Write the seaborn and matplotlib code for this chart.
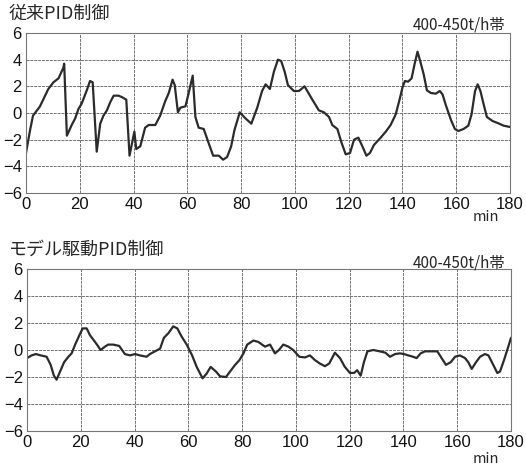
import matplotlib
matplotlib.use("Agg")
import matplotlib.pyplot as plt
import seaborn as sns
import pandas as pd

# conventional PID (top panel)
conv_t = [0, 1.5, 2.6, 5.2, 8.3, 10.2, 12.1, 13.9, 14.2, 15.2, 17.0, 18.3, 19.5, 20.7,
          22.6, 23.8, 24.8, 26.3, 27.6, 28.8, 30.1, 31.3, 32.6, 34.4, 35.6, 37.3, 38.5,
          39.4, 40.3, 41.0, 42.5, 44.3, 45.6, 48.1, 49.9, 51.8, 53.1, 54.5, 55.3, 56.5,
          57.4, 59.3, 60.5, 62.0, 63.0, 64.2, 66.1, 68.0, 69.6, 71.7, 73.3, 74.8, 76.3,
          77.5, 79.5, 81.6, 83.8, 86.0, 87.8, 89.1, 90.7, 92.2, 93.7, 94.9, 96.2, 97.4,
          99.6, 101.5, 103.6, 105.9, 108.9, 110.8, 112.7, 113.9, 115.8, 117.3, 118.9,
          120.5, 122.0, 123.6, 125.1, 126.6, 127.9, 129.4, 131.9, 133.8, 135.6, 137.5,
          138.8, 140.0, 140.9, 142.1, 143.4, 144.6, 145.6, 146.6, 147.9, 149.1, 150.6,
          152.4, 153.9, 154.9, 156.2, 158.1, 159.5, 160.8, 162.7, 164.5, 165.7, 167.0,
          168.0, 169.0, 170.2, 171.4, 173.5, 175.4, 177.6, 180.0]
conv_v = [-3.0, -1.3, -0.2, 0.5, 1.8, 2.3, 2.6, 3.4, 3.7, -1.7, -0.9, -0.4, 0.3, 0.7,
          1.7, 2.4, 2.3, -2.9, -0.8, -0.2, 0.2, 0.8, 1.3, 1.3, 1.2, 1.0, -3.2,
          -2.3, -1.4, -2.7, -2.5, -1.1, -0.9, -0.9, -0.2, 0.9, 1.5, 2.5, 2.1, 0.05,
          0.4, 0.5, 1.5, 2.8, -0.3, -1.1, -1.2, -2.3, -3.2, -3.2, -3.5, -3.3, -2.5,
          -1.3, 0.05, -0.4, -0.8, 0.4, 1.65, 2.15, 1.8, 3.1, 4.0, 3.9, 3.1, 2.1,
          1.65, 1.65, 2.0, 1.2, 0.2, 0.05, -0.3, -0.9, -1.2, -2.2, -3.1,
          -3.0, -2.0, -1.85, -2.5, -3.2, -3.0, -2.4, -1.85, -1.4, -0.9, -0.1,
          0.9, 1.9, 2.4, 2.35, 2.6, 3.75, 4.6, 3.9, 2.9, 1.7, 1.5,
          1.45, 1.65, 1.4, 0.55, -0.55, -1.2, -1.35, -1.2, -0.95, -0.1, 1.65,
          2.15, 1.65, 0.65, -0.3, -0.6, -0.75, -0.95, -1.05]

# model-driven PID (bottom panel)
model_t = [0, 1.7, 3.3, 5.1, 7.3, 8.8, 10.0, 11.0, 12.3, 13.8, 15.4, 16.6, 17.9, 19.5,
           20.7, 22.2, 23.4, 25.3, 27.4, 29.0, 30.2, 32.1, 34.3, 36.4, 38.3, 40.2, 42.0,
           44.5, 45.7, 47.6, 49.5, 50.9, 52.6, 54.4, 55.9, 57.5, 59.4, 61.4, 63.1, 65.3,
           66.8, 68.3, 70.3, 71.8, 74.0, 75.5, 77.4, 79.0, 80.5, 81.9, 84.2, 86.0, 88.5,
           90.4, 92.2, 93.7, 95.3, 97.2, 99.0, 101.3, 103.4, 105.2, 107.1, 108.9, 110.8,
           112.4, 114.5, 116.4, 118.2, 120.1, 121.6, 122.8, 124.1, 125.3, 126.6, 128.8,
           131.2, 133.3, 135.0, 136.9, 138.7, 140.2, 141.8, 143.6, 144.9, 146.4, 148.0,
           149.9, 152.6, 154.2, 155.8, 157.6, 159.2, 161.0, 162.9, 164.1, 165.4, 167.0,
           168.5, 170.3, 171.6, 173.4, 174.9, 175.9, 177.4, 179.0, 180.0]
model_v = [-0.6, -0.4, -0.3, -0.4, -0.5, -1.1, -1.9, -2.2, -1.6, -0.9, -0.5, -0.25, 0.4, 1.1,
           1.6, 1.6, 1.1, 0.6, 0.0, 0.25, 0.4, 0.4, 0.3, -0.3, -0.4, -0.3, -0.4,
           -0.5, -0.3, -0.1, 0.1, 0.9, 1.25, 1.75, 1.6, 1.0, 0.4, -0.4, -1.25, -2.1,
           -1.75, -1.25, -1.6, -1.95, -2.0, -1.6, -1.1, -0.75, -0.25, 0.4, 0.7, 0.6, 0.25,
           0.4, -0.25, 0.0, 0.4, 0.25, 0.0, -0.5, -0.55, -0.4, -0.75, -1.0, -1.2,
           -1.0, -0.2, -0.6, -1.25, -1.7, -1.7, -1.5, -1.9, -0.9, -0.1, 0.0,
           -0.1, -0.2, -0.5, -0.3, -0.25, -0.3, -0.4, -0.5, -0.6, -0.25, -0.1,
           -0.1, -0.1, -0.6, -1.1, -0.9, -0.5, -0.4, -0.6, -0.9, -1.4, -0.9,
           -0.5, -0.3, -0.4, -1.1, -1.7, -1.6, -0.75, 0.25, 0.9]

titles = ["従来PID制御", "モデル駆動PID制御"]
band_label = "400-450t/h帯"
x_ticks = [0, 20, 40, 60, 80, 100, 120, 140, 160, 180]
y_ticks = [-6, -4, -2, 0, 2, 4, 6]

sns.set_style("white")
plt.rcParams['font.family'] = ['Liberation Sans', 'Noto Sans CJK JP', 'DejaVu Sans']

fig = plt.figure(figsize=(5.26, 4.66), dpi=100)
ax_top = fig.add_axes([26 / 526, 1 - 193 / 466, 484 / 526, 160 / 466])
ax_bot = fig.add_axes([27 / 526, 1 - 431 / 466, 484 / 526, 162 / 466])

# (axes, x, y, title, title top, band top, "min" top) -- tops in pixels
panels = [
    (ax_top, conv_t, conv_v, titles[0], 5, 16, 210),
    (ax_bot, model_t, model_v, titles[1], 241, 254, 452),
]

cjk = ['Noto Sans CJK JP', 'DejaVu Sans']

for ax, t, v, title, title_y, band_y, min_y in panels:
    df = pd.DataFrame({"t": t, "v": v})
    sns.lineplot(data=df, x="t", y="v", ax=ax, color="#2b2b2b", linewidth=1.6)
    ax.set_xlim(0, 180)
    ax.set_ylim(-6, 6)
    ax.set_xticks(x_ticks)
    ax.set_yticks(y_ticks)
    ax.set_xlabel("")
    ax.set_ylabel("")
    ax.grid(True, color="#707070", linewidth=0.7, linestyle=(0, (3, 1)))
    ax.tick_params(length=0, labelsize=12, colors="#111111")
    ax.tick_params(axis="x", pad=3)
    ax.tick_params(axis="y", pad=3)
    for s in ax.spines.values():
        s.set_color("#777777")
        s.set_linewidth(0.8)
    fig.text(9 / 526, 1 - title_y / 466, title, fontsize=13, va="top", ha="left",
             family=cjk)
    fig.text(505 / 526, 1 - band_y / 466, band_label, fontsize=11, va="top", ha="right",
             family=cjk)
    fig.text(486 / 526, 1 - min_y / 466, "min", fontsize=10.5, va="top", ha="center",
             family=cjk)

fig.savefig("out.png", dpi=100)
